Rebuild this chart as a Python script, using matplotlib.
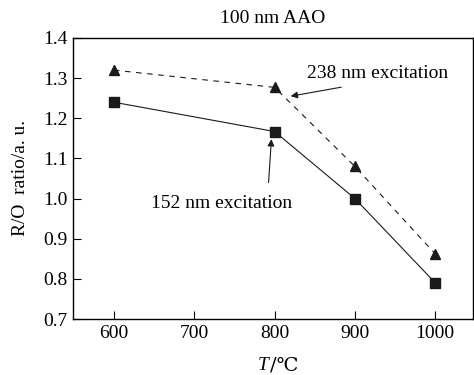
import matplotlib.pyplot as plt

plt.rcParams['font.family'] = ['Liberation Serif', 'DejaVu Serif']

# данные
temps = [600, 800, 900, 1000]
ratio_152 = [1.24, 1.167, 1.00, 0.79]
ratio_238 = [1.32, 1.277, 1.08, 0.862]

fig = plt.figure(figsize=(4.74, 3.75), dpi=100)
ax = fig.add_axes([73 / 474, 56 / 375, 400 / 474, 281 / 375])

ax.plot(temps, ratio_152, '-', color='#1a1a1a', lw=0.8,
        marker='s', ms=7, mfc='#1a1a1a', mec='#1a1a1a')
ax.plot(temps, ratio_238, '--', color='#1a1a1a', lw=0.8, dashes=(5, 5),
        marker='^', ms=7, mfc='#1a1a1a', mec='#1a1a1a')

ax.set_xlim(549, 1047)
ax.set_ylim(0.7, 1.4)
ax.set_xticks([600, 700, 800, 900, 1000])
ax.set_yticks([0.7, 0.8, 0.9, 1.0, 1.1, 1.2, 1.3, 1.4])
ax.set_yticklabels(['0.7', '0.8', '0.9', '1.0', '1.1', '1.2', '1.3', '1.4'])
ax.tick_params(direction='in', length=6, width=0.8, labelsize=14, pad=4)
for s in ax.spines.values():
    s.set_linewidth(1.0)

ax.set_title('100 nm AAO', fontsize=14, pad=11)
ax.set_ylabel('R/O  ratio/a. u.', fontsize=14, labelpad=10)

# подпись оси x: курсивное T и знак градуса отдельно
fig.text(269 / 474, 1 - 365 / 375, 'T', style='italic', fontsize=14,
         ha='right', va='center')
fig.text(270 / 474, 1 - 365 / 375, '/℃', fontsize=14,
         family=['DejaVu Serif'], ha='left', va='center')

# подписи и стрелки отдельно
ax.text(928, 1.312, '238 nm excitation', ha='center', va='center', fontsize=14)
ax.text(734, 0.987, '152 nm excitation', ha='center', va='center', fontsize=14)
arrow = dict(arrowstyle='-|>', color='#1a1a1a', lw=0.8,
             shrinkA=0, shrinkB=0, mutation_scale=10)
ax.annotate('', xy=(820, 1.255), xytext=(883, 1.2775), arrowprops=arrow)
ax.annotate('', xy=(796, 1.148), xytext=(792.5, 1.04), arrowprops=arrow)

fig.savefig('out.png', dpi=100)
